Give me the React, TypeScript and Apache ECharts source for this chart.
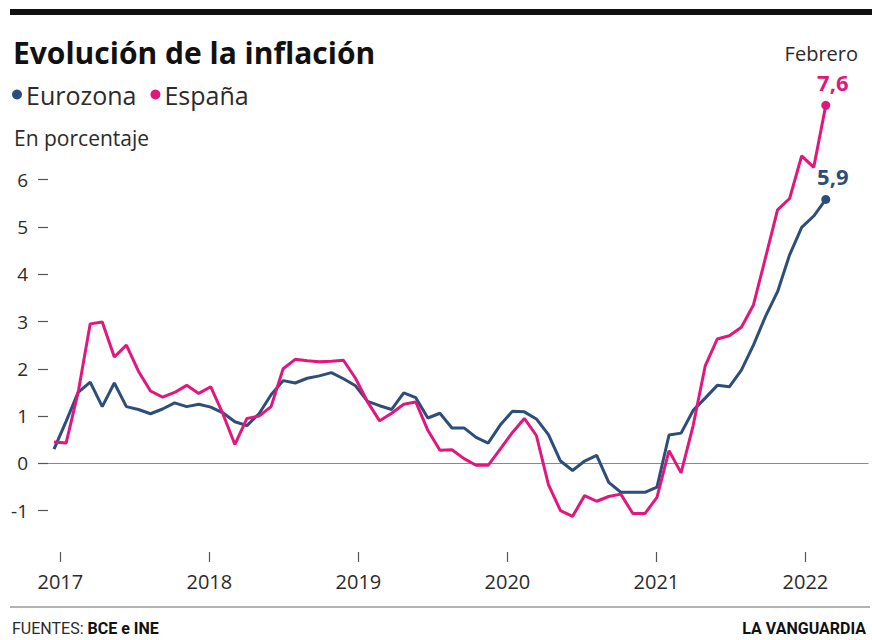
import React, { useEffect, useRef } from 'react';
import * as echarts from 'echarts';

const months = [
  '2016-10', '2016-11', '2016-12',
  '2017-01', '2017-02', '2017-03', '2017-04', '2017-05', '2017-06', '2017-07', '2017-08', '2017-09', '2017-10', '2017-11', '2017-12',
  '2018-01', '2018-02', '2018-03', '2018-04', '2018-05', '2018-06', '2018-07', '2018-08', '2018-09', '2018-10', '2018-11', '2018-12',
  '2019-01', '2019-02', '2019-03', '2019-04', '2019-05', '2019-06', '2019-07', '2019-08', '2019-09', '2019-10', '2019-11', '2019-12',
  '2020-01', '2020-02', '2020-03', '2020-04', '2020-05', '2020-06', '2020-07', '2020-08', '2020-09', '2020-10', '2020-11', '2020-12',
  '2021-01', '2021-02', '2021-03', '2021-04', '2021-05', '2021-06', '2021-07', '2021-08', '2021-09', '2021-10', '2021-11', '2021-12',
  '2022-01', '2022-02',
];

const eurozona = [
  0.3, 0.89, 1.5, 1.72, 1.2, 1.7, 1.2, 1.14, 1.05, 1.15,
  1.28, 1.2, 1.25, 1.19, 1.07, 0.88, 0.8, 1.05, 1.45, 1.75,
  1.7, 1.8, 1.85, 1.92, 1.79, 1.64, 1.31, 1.22, 1.14, 1.49,
  1.39, 0.96, 1.06, 0.75, 0.75, 0.55, 0.43, 0.81, 1.1, 1.09,
  0.94, 0.61, 0.05, -0.15, 0.05, 0.17, -0.4, -0.61, -0.61, -0.61,
  -0.5, 0.6, 0.64, 1.12, 1.38, 1.65, 1.62, 1.97, 2.5, 3.11,
  3.63, 4.41, 4.99, 5.23, 5.58,
];

const espana = [
  0.45, 0.43, 1.5, 2.95, 2.99, 2.25, 2.5, 1.95, 1.53, 1.4,
  1.5, 1.65, 1.48, 1.62, 1.05, 0.4, 0.95, 1.0, 1.2, 2.0,
  2.2, 2.17, 2.15, 2.16, 2.18, 1.8, 1.3, 0.9, 1.06, 1.25,
  1.3, 0.7, 0.28, 0.29, 0.1, -0.04, -0.04, 0.3, 0.65, 0.95,
  0.59, -0.45, -1.0, -1.12, -0.68, -0.8, -0.7, -0.65, -1.06, -1.06,
  -0.72, 0.27, -0.2, 0.8, 2.06, 2.63, 2.7, 2.88, 3.35, 4.35,
  5.36, 5.6, 6.5, 6.26, 7.57,
];

const seriesNames = ['Eurozona', 'España'];
const endLabels = ['5,9', '7,6'];
const yearTicks = [2017, 2018, 2019, 2020, 2021, 2022];
const yTicks = [-1, 0, 1, 2, 3, 4, 5, 6];

const BLUE = '#2d4d7b';
const PINK = '#e1177d';
const TEXT = '#2b2b2b';
const FONT = '"Open Sans", Lato, sans-serif';
const FOOT_FONT = 'Roboto, sans-serif';

export default function App() {
  const ref = useRef<HTMLDivElement>(null);

  useEffect(() => {
    const chart = echarts.init(ref.current as HTMLDivElement, null, { renderer: 'svg' });

    const withEnd = (arr: number[], label: string, color: string) =>
      arr.map((v, i) =>
        i === arr.length - 1
          ? {
              value: v,
              symbol: 'circle',
              symbolSize: 9,
              label: {
                show: true,
                position: 'top',
                distance: 8,
                offset: [7, 0],
                formatter: label,
                fontSize: 22,
                fontWeight: 'bold',
                fontFamily: FONT,
                color,
              },
            }
          : v
      );

    chart.setOption({
      animation: false,
      backgroundColor: '#ffffff',
      textStyle: { fontFamily: FONT },
      title: {
        text: 'Evolución de la inflación',
        left: 13,
        top: 37,
        padding: 0,
        textStyle: { fontSize: 30, fontWeight: 'bold', color: '#111', fontFamily: FONT },
      },
      legend: {
        data: seriesNames,
        left: 12,
        top: 82,
        padding: 0,
        icon: 'circle',
        itemWidth: 10,
        itemHeight: 10,
        itemGap: 14,
        textStyle: { fontSize: 25, color: TEXT, fontFamily: FONT, padding: [0, 0, 0, -1] },
      },
      grid: { left: 48, width: 820, top: 85, height: 473 },
      xAxis: [
        {
          type: 'category',
          data: months,
          max: 67,
          boundaryGap: true,
          axisLine: { show: true, onZero: true, lineStyle: { color: '#8a8a8a', width: 1.2 } },
          axisTick: { show: false },
          axisLabel: { show: false },
          splitLine: { show: false },
        },
        {
          type: 'value',
          position: 'bottom',
          min: 2016.917,
          max: 2022.42,
          offset: -6,
          axisLine: { show: false },
          axisTick: { show: true, customValues: yearTicks, length: 10, lineStyle: { color: '#555', width: 1.2 } },
          axisLabel: {
            show: true,
            customValues: yearTicks,
            formatter: (v: number) => String(Math.round(v)),
            fontSize: 20,
            margin: 19,
            color: TEXT,
            fontFamily: FONT,
          },
          splitLine: { show: false },
        },
      ],
      yAxis: {
        type: 'value',
        min: -2,
        max: 8,
        axisLine: { show: false },
        splitLine: { show: false },
        axisTick: { show: true, customValues: yTicks, length: 10, lineStyle: { color: '#555', width: 1.2 } },
        axisLabel: {
          show: true,
          customValues: yTicks,
          fontSize: 19,
          margin: 20,
          color: TEXT,
          fontFamily: FONT,
        },
      },
      series: [
        {
          name: seriesNames[0],
          type: 'line',
          xAxisIndex: 0,
          data: withEnd(eurozona, endLabels[0], BLUE),
          symbol: 'none',
          showAllSymbol: true,
          lineStyle: { color: BLUE, width: 3 },
          itemStyle: { color: BLUE },
          z: 3,
        },
        {
          name: seriesNames[1],
          type: 'line',
          xAxisIndex: 0,
          data: withEnd(espana, endLabels[1], PINK),
          symbol: 'none',
          showAllSymbol: true,
          lineStyle: { color: PINK, width: 3 },
          itemStyle: { color: PINK },
          z: 4,
        },
      ],
      graphic: [
        { type: 'rect', shape: { x: 10, y: 9, width: 862, height: 6 }, style: { fill: '#111' } },
        {
          type: 'text',
          left: 14,
          top: 127,
          style: { text: 'En porcentaje', fontSize: 21, fill: TEXT, fontFamily: FONT },
        },
        {
          type: 'text',
          right: 14,
          top: 43,
          style: { text: 'Febrero', fontSize: 20, fill: TEXT, fontFamily: FONT },
        },
        { type: 'line', shape: { x1: 10, y1: 607, x2: 870, y2: 607 }, style: { stroke: '#9a9a9a', lineWidth: 1.5 } },
        {
          type: 'text',
          left: 12,
          top: 620,
          style: {
            text: '{a|FUENTES: }{b|BCE e INE}',
            rich: {
              a: { fontSize: 16, fill: TEXT, fontFamily: FOOT_FONT },
              b: { fontSize: 16, fontWeight: 'bold', fill: '#111', fontFamily: FOOT_FONT },
            },
          },
        },
        {
          type: 'text',
          right: 6,
          top: 620,
          style: { text: 'LA VANGUARDIA', fontSize: 16, fontWeight: 'bold', fill: '#111', fontFamily: FOOT_FONT },
        },
      ],
    });

    return () => chart.dispose();
  }, []);

  return (
    <div
      ref={ref}
      style={{ position: 'fixed', left: 0, top: 0, width: 872, height: 640, background: '#fff' }}
    />
  );
}
